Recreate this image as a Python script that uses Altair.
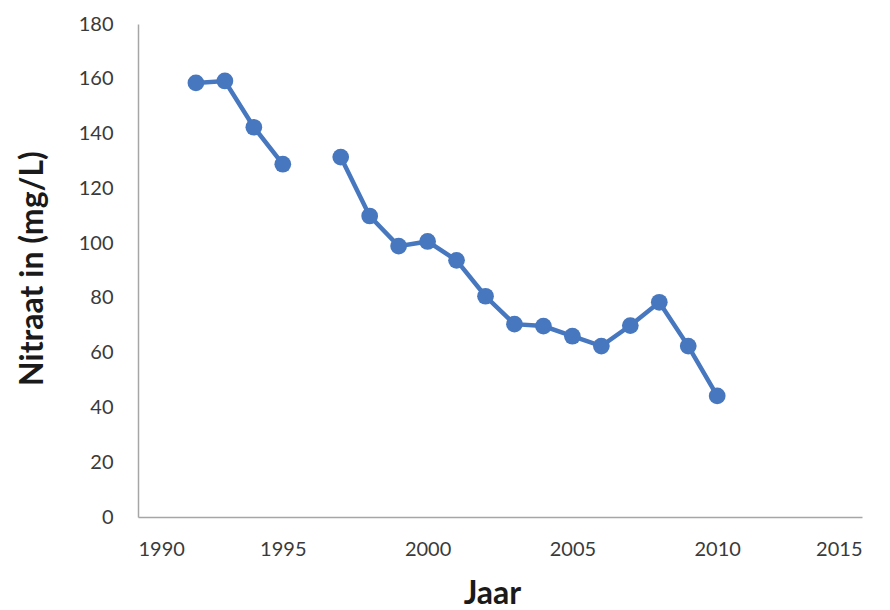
import altair as alt
import pandas as pd

years = [1992, 1993, 1994, 1995, 1996, 1997, 1998, 1999, 2000, 2001,
         2002, 2003, 2004, 2005, 2006, 2007, 2008, 2009, 2010]
nitrate = [158.5, 159.2, 142.3, 128.8, None, 131.4, 109.9, 98.9, 100.6, 93.7,
           80.6, 70.4, 69.7, 66.0, 62.4, 69.9, 78.4, 62.4, 44.2]
x_ticks = [1990, 1995, 2000, 2005, 2010, 2015]
y_ticks = [0, 20, 40, 60, 80, 100, 120, 140, 160, 180]

df = pd.DataFrame({"Jaar": years, "Nitraat": nitrate})

COLOR = "#4677BF"
FONT = "Lato"

x = alt.X("Jaar:Q",
          scale=alt.Scale(domain=[1990, 2015], nice=False, zero=False),
          axis=alt.Axis(values=x_ticks, format="d",
                        title="Jaar", ticks=False, grid=False, labelPadding=22,
                        titleX=354, titleY=86, titleBaseline="alphabetic", titleAlign="center"))
y = alt.Y("Nitraat:Q",
          scale=alt.Scale(domain=[0, 180], nice=False),
          axis=alt.Axis(values=y_ticks, title="Nitraat in (mg/L)",
                        ticks=False, grid=False, labelPadding=25,
                        titleX=-106, titleY=244, titleBaseline="middle", titleAlign="center",
                        titleAngle=-90))

line = alt.Chart(df).mark_line(color=COLOR, strokeWidth=4.5,
                               invalid="break-paths-show-domains").encode(x=x, y=y)
pts = alt.Chart(df).mark_circle(color=COLOR, size=280, opacity=1).encode(x=x, y=y)

chart = (line + pts).properties(
    width=724, height=493,
    autosize=alt.AutoSizeParams(type="none"),
    padding={"left": 130, "top": 16, "right": 20, "bottom": 92},
).configure_view(stroke=None).configure_axis(
    domainColor="#a6a6a6", domainWidth=1.5,
    labelFont=FONT, labelFontSize=20, labelColor="#3a3a3a",
    titleFont=FONT, titleFontSize=32, titleFontWeight="bold", titleColor="#1a1a1a",
)

chart.save("out.html", embed_options={"renderer": "svg", "actions": False})
